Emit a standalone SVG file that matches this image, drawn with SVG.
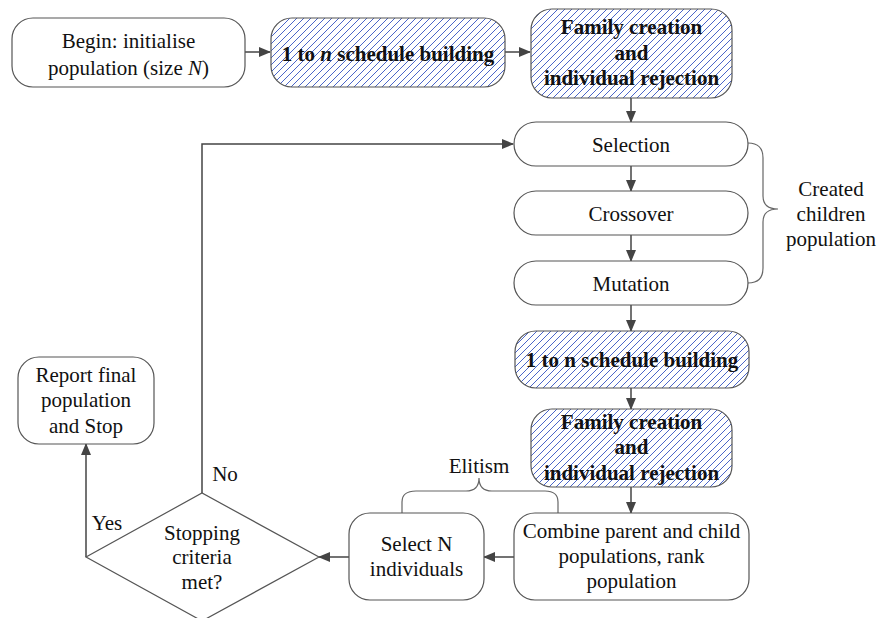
<svg xmlns="http://www.w3.org/2000/svg" width="877" height="618" viewBox="0 0 877 618">
<defs>
<pattern id="hatch" patternUnits="userSpaceOnUse" width="7" height="7">
<rect width="7" height="7" fill="#ffffff"/>
<path d="M0,7 L7,0 M-2,2 L2,-2 M5,9 L9,5" stroke="#4b66c8" stroke-width="1"/>
</pattern>
<marker id="arr" markerWidth="12" markerHeight="10" refX="11" refY="5" orient="auto" markerUnits="userSpaceOnUse">
<path d="M0,0 L12,5 L0,10 Z" fill="#444"/>
</marker>
<style>
.box{fill:#fff;stroke:#555;stroke-width:1.2}
.hbox{fill:url(#hatch);stroke:#555;stroke-width:1.2}
.t{font-family:"Liberation Serif","Times New Roman",serif;font-size:21px;fill:#111;text-anchor:middle}
.b{font-weight:bold}
.c{fill:none;stroke:#444;stroke-width:1.5}
.br{fill:none;stroke:#666;stroke-width:1.2}
</style>
</defs>
<g id="connectors">
<line class="c" x1="245" y1="52" x2="270" y2="52" marker-end="url(#arr)"/>
<line class="c" x1="505" y1="52" x2="530" y2="52" marker-end="url(#arr)"/>
<line class="c" x1="631" y1="98" x2="631" y2="122" marker-end="url(#arr)"/>
<line class="c" x1="631" y1="166" x2="631" y2="191" marker-end="url(#arr)"/>
<line class="c" x1="631" y1="235" x2="631" y2="261" marker-end="url(#arr)"/>
<line class="c" x1="631" y1="305" x2="631" y2="331" marker-end="url(#arr)"/>
<line class="c" x1="631" y1="388" x2="631" y2="409" marker-end="url(#arr)"/>
<line class="c" x1="631" y1="487" x2="631" y2="513" marker-end="url(#arr)"/>
<line class="c" x1="514" y1="557" x2="484" y2="557" marker-end="url(#arr)"/>
<line class="c" x1="349" y1="557" x2="319" y2="557" marker-end="url(#arr)"/>
<polyline class="c" points="86,557 86,444" marker-end="url(#arr)"/>
<polyline class="c" points="202,493 202,144 513,144" marker-end="url(#arr)"/>
<path class="br" d="M748,143 Q763,143 763,158 L763,196 Q763,209 778,209 Q763,209 763,222 L763,268 Q763,283 748,283"/>
<path class="br" d="M402,513 L402,502 Q402,491 416,491 L466,491 Q479,491 479,478 Q479,491 492,491 L545,491 Q558,491 558,502 L558,513"/>
</g>
<g id="begin">
<rect class="box" x="12" y="18" width="233" height="69" rx="21"/>
<text class="t" x="128.5" y="48">Begin: initialise</text>
<text class="t" x="128.5" y="75">population (size <tspan font-style="italic">N</tspan>)</text>
</g>
<g id="schedule1">
<rect class="hbox" x="271" y="18" width="234" height="69" rx="21"/>
<text class="t b" x="388" y="61">1 to <tspan font-style="italic">n</tspan> schedule building</text>
</g>
<g id="family1">
<rect class="hbox" x="531" y="9" width="201" height="89" rx="21"/>
<text class="t b" x="631.5" y="34">Family creation</text>
<text class="t b" x="631.5" y="60">and</text>
<text class="t b" x="631.5" y="85">individual rejection</text>
</g>
<g id="selection">
<rect class="box" x="514" y="122" width="234" height="44" rx="22"/>
<text class="t" x="631" y="152">Selection</text>
</g>
<g id="crossover">
<rect class="box" x="514" y="191" width="234" height="44" rx="22"/>
<text class="t" x="631" y="221">Crossover</text>
</g>
<g id="mutation">
<rect class="box" x="514" y="261" width="234" height="44" rx="22"/>
<text class="t" x="631" y="291">Mutation</text>
</g>
<g id="children-label">
<text class="t" x="831" y="196">Created</text>
<text class="t" x="831" y="221">children</text>
<text class="t" x="831" y="246">population</text>
</g>
<g id="schedule2">
<rect class="hbox" x="515" y="331" width="234" height="57" rx="21"/>
<text class="t b" x="632" y="367">1 to n schedule building</text>
</g>
<g id="family2">
<rect class="hbox" x="531" y="409" width="201" height="78" rx="21"/>
<text class="t b" x="631.5" y="429">Family creation</text>
<text class="t b" x="631.5" y="454">and</text>
<text class="t b" x="631.5" y="480">individual rejection</text>
</g>
<g id="combine">
<rect class="box" x="514" y="513" width="235" height="87" rx="21"/>
<text class="t" x="631.5" y="538">Combine parent and child</text>
<text class="t" x="631.5" y="563">populations, rank</text>
<text class="t" x="631.5" y="588">population</text>
</g>
<g id="selectN">
<rect class="box" x="349" y="513" width="135" height="87" rx="21"/>
<text class="t" x="416.5" y="551">Select N</text>
<text class="t" x="416.5" y="576">individuals</text>
</g>
<g id="elitism">
<text class="t" x="479" y="473">Elitism</text>
</g>
<g id="stopping">
<polygon class="box" points="86,557 202,493 319,557 202,621"/>
<text class="t" x="202" y="540">Stopping</text>
<text class="t" x="202" y="564">criteria</text>
<text class="t" x="202" y="589">met?</text>
</g>
<g id="report">
<rect class="box" x="18" y="357" width="136" height="87" rx="21"/>
<text class="t" x="86" y="382">Report final</text>
<text class="t" x="86" y="407">population</text>
<text class="t" x="86" y="433">and Stop</text>
</g>
<g id="labels">
<text class="t" x="107" y="530">Yes</text>
<text class="t" x="225" y="481">No</text>
</g>
</svg>
